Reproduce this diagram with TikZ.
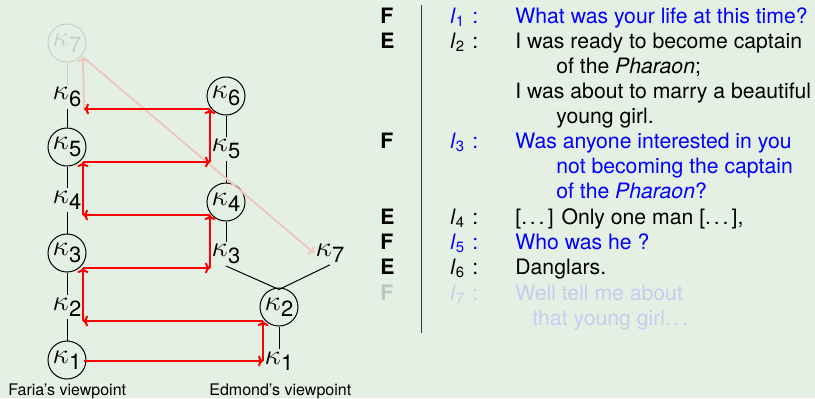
\documentclass[tikz,border=0pt]{standalone}
\usepackage{fontspec}
\setmainfont{TeX Gyre Heros}
\usetikzlibrary{arrows.meta}
\definecolor{bg}{RGB}{229,240,228}
\definecolor{fadegray}{RGB}{200,205,200}
\definecolor{fadered}{RGB}{238,200,190}
\definecolor{fadeblue}{RGB}{196,206,236}
\definecolor{fadetext}{RGB}{190,196,190}
\newcommand\kap[1]{{\fontsize{13.5}{15}\selectfont$\kappa$}\kern0.2pt\raisebox{-3.2pt}{\fontsize{11}{12}\selectfont #1}}
\newcommand\utt[1]{\textit{l}\textsubscript{#1}}
\newcommand\dts{.\kern1.4pt.\kern1.4pt.\kern1.6pt}
\tikzset{
  circ/.style={draw, circle, minimum size=19pt, inner sep=0pt, line width=0.5pt},
  lab/.style={inner sep=1pt},
  tree/.style={line width=0.5pt},
  redarr/.style={red, line width=1pt, -{To[length=2.5pt,width=5.5pt]}},
  fadearr/.style={fadered, line width=1pt, -{To[length=2.5pt,width=5.5pt]}},
  txt/.style={anchor=base west, inner sep=0pt, font=\fontsize{10.6}{12}\selectfont},
  spk/.style={txt, font=\fontsize{10.6}{12}\selectfont\bfseries},
  captxt/.style={anchor=base west, inner sep=0pt, font=\fontsize{8}{10}\selectfont},
}
\begin{document}
\begin{tikzpicture}[x=0.5pt,y=-0.5pt]
\fill[bg] (0,0) rectangle (815,398);
\useasboundingbox (0,0) rectangle (815,398);
% Faria's column
\node[circ, draw=fadegray, text=fadegray] (K7) at (67,43) {\kap{7}};
\node[lab] (L6) at (67,97) {\kap{6}};
\node[circ] (K5) at (67,147) {\kap{5}};
\node[lab] (L4) at (67,200) {\kap{4}};
\node[circ] (K3) at (67,253) {\kap{3}};
\node[lab] (L2) at (67,307) {\kap{2}};
\node[circ] (K1) at (67,360) {\kap{1}};
% Edmond's column
\node[circ] (R6) at (226,96) {\kap{6}};
\node[lab] (R5) at (226,149) {\kap{5}};
\node[circ] (R4) at (226,202) {\kap{4}};
\node[lab] (R3) at (226,254) {\kap{3}};
\node[lab] (R7) at (330,253) {\kap{7}};
\node[circ] (R2) at (279,307) {\kap{2}};
\node[lab] (R1) at (279,361) {\kap{1}};
% tree lines
\draw[tree, fadegray] (K7) -- (L6);
\draw[tree] (L6) -- (K5);
\draw[tree] (K5) -- (L4);
\draw[tree] (L4) -- (K3);
\draw[tree] (K3) -- (L2);
\draw[tree] (L2) -- (K1);
\draw[tree] (R6) -- (R5);
\draw[tree] (R5) -- (R4);
\draw[tree] (R4) -- (R3);
\draw[tree] (R3.south) -- ([yshift=-1pt]R2.north);
\draw[tree] (R7.south) -- ([yshift=-1pt]R2.north);
\draw[tree] (R2) -- (R1);
% arrow corners
\coordinate (p0) at (84,361);
\coordinate (p1) at (263,361);
\coordinate (p2) at (263,321);
\coordinate (p3) at (83,321);
\coordinate (p4) at (83,268);
\coordinate (p5) at (210,268);
\coordinate (p6) at (210,215);
\coordinate (p7) at (83,215);
\coordinate (p8) at (83,162);
\coordinate (p9) at (210,162);
\coordinate (p10) at (210,109);
\coordinate (p11) at (84,109);
\coordinate (p12) at (83,57);
\coordinate (p13) at (314,253);
\draw[fadearr] (p11) -- (p12);
\draw[fadearr] (p12) -- (p13);
\draw[redarr] (p0) -- (p1);
\draw[redarr] (p1) -- (p2);
\draw[redarr] (p2) -- (p3);
\draw[redarr] (p3) -- (p4);
\draw[redarr] (p4) -- (p5);
\draw[redarr] (p5) -- (p6);
\draw[redarr] (p6) -- (p7);
\draw[redarr] (p7) -- (p8);
\draw[redarr] (p8) -- (p9);
\draw[redarr] (p9) -- (p10);
\draw[redarr] (p10) -- (p11);
% captions
\node[captxt] (capF) at (8,395) {Faria's viewpoint};
\node[captxt] (capE) at (209,395) {Edmond's viewpoint};
% dialogue
\draw[line width=0.5pt, black!80] (421,5) -- (421,333);
\node[spk] (s1) at (380,23) {F};
\node[spk] (s2) at (380,48.5) {E};
\node[spk] (s3) at (380,148.5) {F};
\node[spk] (s4) at (380,224.5) {E};
\node[spk] (s5) at (380,249.5) {F};
\node[spk] (s6) at (380,274.5) {E};
\node[spk, text=fadetext] (s7) at (380,300) {F};
\begin{scope}[every node/.style={txt}]
\node[blue] (l1) at (450,23) {\utt{1}};
\node[blue] (c1) at (472,23) {:};
\node[blue] (t1) at (515,23) {What was your life at this time?};
\node (l2) at (450,48.5) {\utt{2}};
\node (c2) at (472,48.5) {:};
\node (t2a) at (515,48.5) {I was ready to become captain};
\node (t2b) at (556,73.5) {of the \textit{Pharaon};};
\node (t2c) at (515,98.5) {I was about to marry a beautiful};
\node (t2d) at (556,123.5) {young girl.};
\node[blue] (l3) at (450,148.5) {\utt{3}};
\node[blue] (c3) at (472,148.5) {:};
\node[blue] (t3a) at (515,148.5) {Was anyone interested in you};
\node[blue] (t3b) at (556,173.5) {not becoming the captain};
\node[blue] (t3c) at (556,198.5) {of the \textit{Pharaon}?};
\node (l4) at (450,224.5) {\utt{4}};
\node (c4) at (472,224.5) {:};
\node (t4) at (515,224.5) {[\dts] Only one man [\dts],};
\node[blue] (l5) at (450,249.5) {\utt{5}};
\node[blue] (c5) at (472,249.5) {:};
\node[blue] (t5) at (515,249.5) {Who was he ?};
\node (l6) at (450,274.5) {\utt{6}};
\node (c6) at (472,274.5) {:};
\node (t6) at (515,274.5) {Danglars.};
\node[fadeblue] (l7) at (450,300) {\utt{7}};
\node[fadeblue] (c7) at (472,300) {:};
\node[fadeblue] (t7a) at (515,300) {Well tell me about};
\node[fadeblue] (t7b) at (532,325.5) {that young girl.\kern1.4pt.\kern1.4pt.};
\end{scope}
\end{tikzpicture}
\end{document}
